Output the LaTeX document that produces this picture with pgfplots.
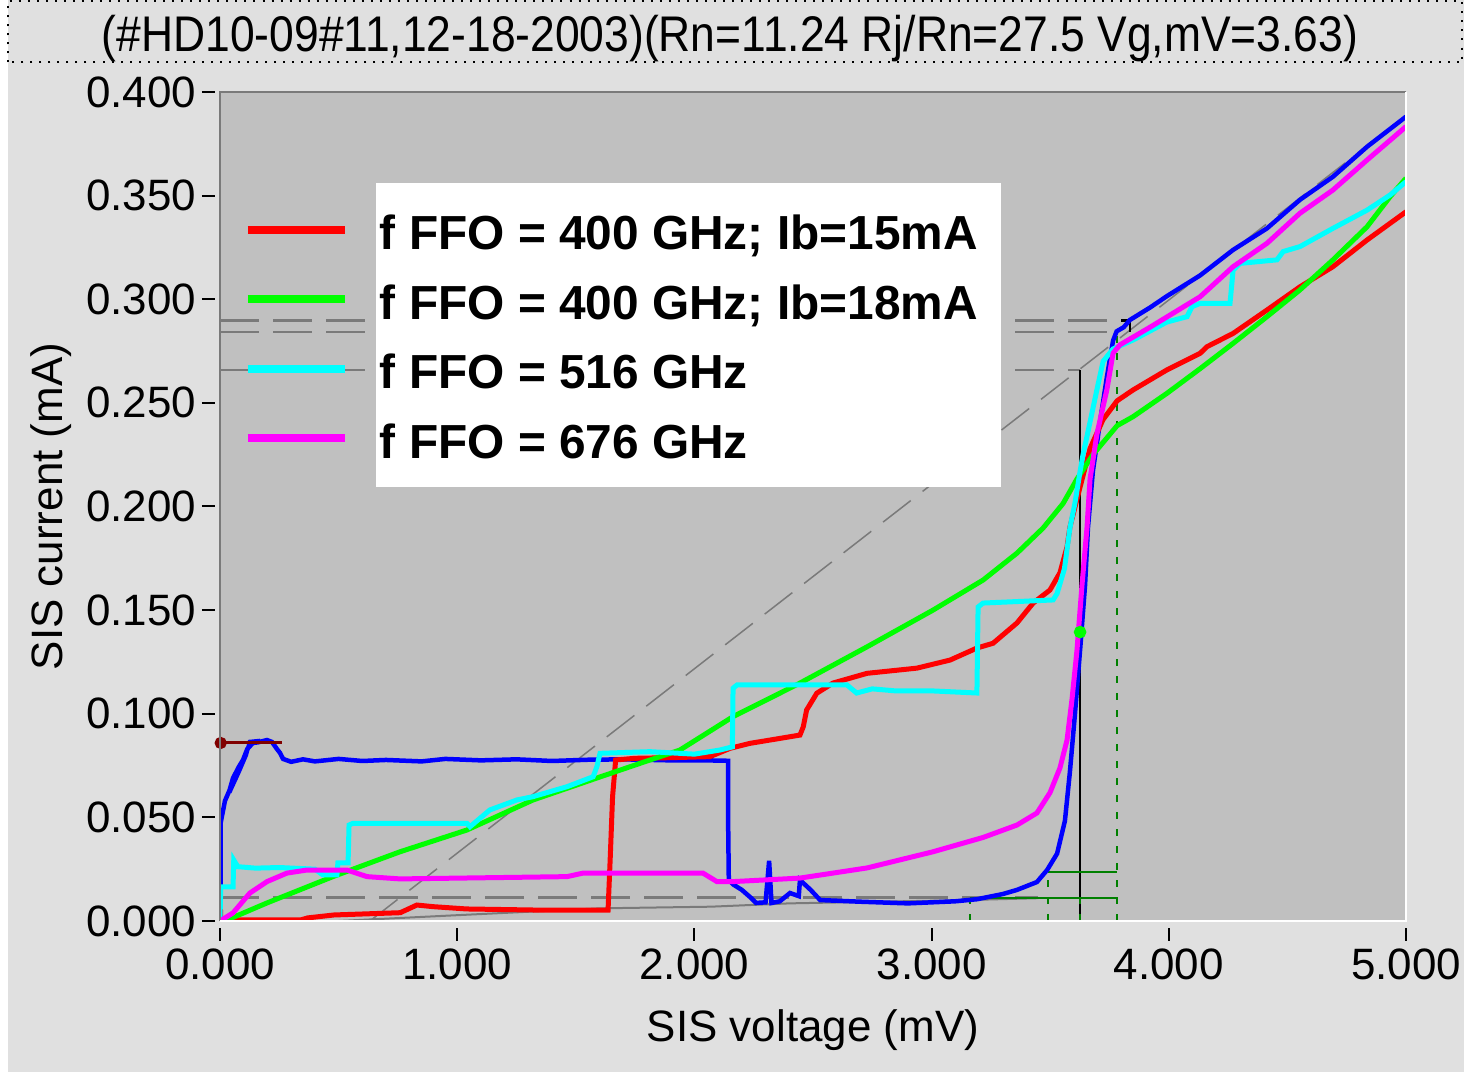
\documentclass[border=0pt]{standalone}
\usepackage{fontspec}
\setmainfont{Liberation Sans}
\usepackage{pgfplots}
\pgfplotsset{compat=1.18}
\definecolor{outerbg}{HTML}{E0E0E0}
\definecolor{plotbg}{HTML}{C0C0C0}
\definecolor{refgray}{HTML}{7A7A7A}
\definecolor{cRed}{HTML}{FF0000}
\definecolor{cGreen}{HTML}{00FF00}
\definecolor{cCyan}{HTML}{00FFFF}
\definecolor{cMag}{HTML}{FF00FF}
\definecolor{cBlue}{HTML}{0000FF}
\definecolor{dRed}{HTML}{800000}
\definecolor{dGreen}{HTML}{008000}
\begin{document}
\begin{tikzpicture}
\fill[outerbg] (0,0) rectangle (146.4mm,107.2mm);
\fill[white] (0,0) rectangle (0.8mm,107.2mm);
\draw[black, dotted, line width=0.2mm] (0.8mm,100.95mm) rectangle (146.2mm,107.1mm);
\node[anchor=base, inner sep=0pt] at (73.0mm,102.0mm) {\scalebox{1.011}[1.14]{\fontsize{12.5}{15}\selectfont (\#HD10-09\#11,12-18-2003)(Rn=11.24 Rj/Rn=27.5 Vg,mV=3.63)}};
\begin{axis}[
  at={(22mm,15.1mm)}, anchor=south west,
  scale only axis, width=118.6mm, height=82.9mm,
  xmin=0, xmax=5, ymin=0, ymax=0.4,
  axis background/.style={fill=plotbg},
  axis line style={draw=none},
  tick align=outside, tick pos=left,
  major tick length=1.3mm,
  every tick/.style={black, line width=0.2mm},
  ytick style={xshift=-0.5mm},
  xtick style={yshift=-0.7mm},
  xtick={0,1,2,3,4,5},
  ytick={0,0.05,0.1,0.15,0.2,0.25,0.3,0.35,0.4},
  scaled ticks=false,
  /pgf/number format/fixed,
  /pgf/number format/fixed zerofill,
  /pgf/number format/precision=3,
  /pgf/number format/assume math mode=true,
  ticklabel style={font=\fontsize{12.5}{15}\selectfont},
  xticklabel style={anchor=north, inner sep=0pt, yshift=-1.4mm},
  yticklabel style={anchor=east, inner sep=0pt, xshift=-1.0mm},
  label style={font=\fontsize{12.5}{15}\selectfont},
  xlabel={SIS voltage (mV)},
  ylabel={SIS current (mA)},
  xlabel style={at={(axis description cs:0.5,-0.1315)}, anchor=center},
  ylabel style={at={(axis description cs:-0.1425,0.5)}, anchor=center},
  legend style={at={(axis cs:0.101,0.3407)}, anchor=north west, draw=none, fill=none,
    inner sep=0pt, outer sep=0pt, row sep=2.55mm, column sep=3.1mm,
    cells={anchor=base west},
    nodes={inner sep=0pt, text height=3.5mm, text depth=0.9mm, font=\fontsize{13.6}{16}\selectfont\bfseries}},
  legend image code/.code={\draw[#1, line width=0.8mm] (0mm,2mm) -- (9.7mm,2mm);},
]
% reference lines
\addplot[refgray, line width=0.15mm, dash pattern=on 3.5mm off 1.5mm, forget plot] coordinates {(0.632,0) (5.0,0.3886)};
\addplot[refgray, line width=0.25mm, dash pattern=on 3.9mm off 1.4mm, forget plot] coordinates {(0,0.2897) (3.836,0.2897)};
\addplot[refgray, line width=0.25mm, dash pattern=on 3.9mm off 1.4mm, forget plot] coordinates {(0,0.2841) (3.782,0.2841)};
\addplot[refgray, line width=0.25mm, dash pattern=on 3.9mm off 1.4mm, forget plot] coordinates {(0,0.2659) (3.626,0.2659)};
\addplot[refgray, line width=0.25mm, dash pattern=on 3.9mm off 1.4mm, forget plot] coordinates {(0,0.0113) (3.45,0.0113)};
\addplot[refgray, line width=0.2mm, forget plot] coordinates {(0.50,0) (1.0,0.0028) (1.6,0.0061) (2.07,0.0069) (2.4,0.0085) (3.15,0.0101) (3.45,0.0110)};
\addplot[black, line width=0.25mm, forget plot] coordinates {(3.626,0) (3.626,0.2659)};
\addplot[black, line width=0.25mm, forget plot] coordinates {(3.80,0.2897) (3.836,0.2897) (3.836,0.2841)};
\addplot[dGreen, line width=0.25mm, dash pattern=on 0.7mm off 1.0mm, forget plot] coordinates {(3.162,0) (3.162,0.0109)};
\addplot[dGreen, line width=0.25mm, dash pattern=on 0.7mm off 1.0mm, forget plot] coordinates {(3.49,0) (3.49,0.0236)};
\addplot[dGreen, line width=0.25mm, dash pattern=on 0.7mm off 1.0mm, forget plot] coordinates {(3.626,0) (3.626,0.0109)};
\addplot[dGreen, line width=0.25mm, dash pattern=on 0.7mm off 1.0mm, forget plot] coordinates {(3.782,0) (3.782,0.2841)};
\addplot[dGreen, line width=0.2mm, forget plot] coordinates {(3.162,0.0109) (3.782,0.0109)};
\addplot[dGreen, line width=0.2mm, forget plot] coordinates {(3.49,0.0236) (3.782,0.0236)};
% legend background box
\fill[white] (axis cs:0.658,0.2094) rectangle (axis cs:3.293,0.3561);
% blue (unpumped)
\addplot[cBlue, line width=0.45mm, forget plot] coordinates {
(0.003,0.017) (0.003,0.0475) (0.021,0.058) (0.040,0.063) (0.055,0.069) (0.080,0.0745)
(0.097,0.0777) (0.115,0.0830) (0.139,0.0859) (0.160,0.0862) (0.198,0.0873) (0.219,0.0864)
(0.240,0.0830) (0.253,0.0811) (0.266,0.0782) (0.30,0.0768) (0.35,0.0780) (0.40,0.0770)
(0.50,0.0782) (0.60,0.0772) (0.70,0.0777) (0.85,0.0770) (0.95,0.0782) (1.10,0.0775)
(1.25,0.0780) (1.40,0.0772) (1.55,0.0778) (1.70,0.0780) (1.90,0.0775) (2.05,0.0775)
(2.142,0.0773) (2.142,0.0500) (2.145,0.0198) (2.165,0.0175) (2.20,0.0150) (2.24,0.0110)
(2.26,0.0087) (2.30,0.0090) (2.315,0.0290) (2.325,0.0087) (2.36,0.0095) (2.403,0.0135)
(2.44,0.0120) (2.445,0.0198) (2.49,0.0150) (2.530,0.0101) (2.70,0.0093) (2.90,0.0085)
(3.10,0.0095) (3.191,0.0105) (3.30,0.0130) (3.360,0.0150) (3.444,0.0188) (3.487,0.0246)
(3.529,0.0325) (3.562,0.0483) (3.583,0.0719) (3.604,0.0994) (3.626,0.1308) (3.647,0.1621)
(3.659,0.1896) (3.680,0.2171) (3.710,0.2408) (3.739,0.2625) (3.765,0.2800) (3.780,0.2845)
(3.810,0.2865) (3.836,0.2900) (3.921,0.2960) (3.992,0.3015) (4.132,0.3115) (4.271,0.3238)
(4.414,0.3342) (4.553,0.3480) (4.692,0.3591) (4.836,0.3736) (5.000,0.3881)};
\addplot[cBlue, line width=0.4mm, forget plot] coordinates {(0.04,0.062) (0.08,0.072) (0.11,0.080) (0.125,0.0865) (0.17,0.0870)};
% dark red marker line
\addplot[dRed, line width=0.3mm, mark=*, mark size=1.3pt, mark repeat=2, forget plot] coordinates {(0.003,0.0859) (0.26,0.0859)};
% red
\addplot[cRed, line width=0.5mm] coordinates {
(0.000,0.0110) (0.004,0.0000) (0.030,0.0005) (0.340,0.0005) (0.370,0.0015) (0.480,0.0029)
(0.760,0.0040) (0.830,0.0077) (0.900,0.0069) (1.040,0.0058) (1.320,0.0053) (1.636,0.0053)
(1.645,0.0300) (1.655,0.0600) (1.668,0.0777) (1.750,0.0785) (1.900,0.0788) (2.066,0.0793)
(2.150,0.0833) (2.234,0.0857) (2.445,0.0897) (2.459,0.0937) (2.473,0.1018) (2.516,0.1099)
(2.584,0.1148) (2.728,0.1195) (2.938,0.1220) (3.078,0.1259) (3.191,0.1317) (3.259,0.1340)
(3.360,0.1438) (3.428,0.1534) (3.499,0.1597) (3.541,0.1680) (3.571,0.1805) (3.583,0.1900)
(3.626,0.2094) (3.668,0.2280) (3.723,0.2420) (3.782,0.2510) (3.849,0.2562) (3.992,0.2659)
(4.132,0.2739) (4.161,0.2771) (4.271,0.2835) (4.414,0.2948) (4.553,0.3060) (4.692,0.3157)
(4.836,0.3286) (5.000,0.3422)};
\addlegendentry{f FFO = 400 GHz; Ib=15mA}
% green
\addplot[cGreen, line width=0.5mm] coordinates {
(0,0) (0.03,0.0005) (0.198,0.0087) (0.476,0.0214) (0.759,0.0334) (1.041,0.0439)
(1.320,0.0584) (1.602,0.0695) (1.813,0.0777) (1.939,0.0825) (2.163,0.0986) (2.445,0.1148)
(2.728,0.1323) (3.006,0.1500) (3.217,0.1645) (3.360,0.1775) (3.470,0.1896) (3.554,0.2014)
(3.613,0.2133) (3.680,0.2250) (3.782,0.2390) (3.849,0.2433) (3.992,0.2546) (4.132,0.2665)
(4.271,0.2787) (4.414,0.2916) (4.553,0.3045) (4.692,0.3190) (4.836,0.3350) (4.933,0.3495)
(5.000,0.3584)};
\addlegendentry{f FFO = 400 GHz; Ib=18mA}
% cyan
\addplot[cCyan, line width=0.5mm] coordinates {
(0.000,0.0000) (0.003,0.0165) (0.055,0.0165) (0.058,0.0294) (0.075,0.0262) (0.150,0.0255)
(0.250,0.0258) (0.400,0.0250) (0.434,0.0222) (0.493,0.0222) (0.497,0.0280) (0.540,0.0280)
(0.544,0.0463) (0.560,0.0471) (0.800,0.0471) (1.041,0.0471) (1.054,0.0455) (1.138,0.0536)
(1.252,0.0584) (1.320,0.0600) (1.463,0.0648) (1.573,0.0696) (1.589,0.0745) (1.602,0.0809)
(1.813,0.0817) (2.000,0.0805) (2.108,0.0825) (2.160,0.0840) (2.163,0.1123) (2.180,0.1139)
(2.643,0.1139) (2.684,0.1100) (2.750,0.1120) (2.850,0.1110) (3.006,0.1110) (3.191,0.1100)
(3.196,0.1515) (3.217,0.1534) (3.512,0.1549) (3.529,0.1580) (3.560,0.1700) (3.583,0.1896)
(3.604,0.2014) (3.626,0.2170) (3.638,0.2248) (3.668,0.2408) (3.697,0.2564) (3.723,0.2700)
(3.765,0.2760) (3.849,0.2803) (3.992,0.2890) (4.077,0.2916) (4.098,0.2964) (4.132,0.2980)
(4.258,0.2980) (4.271,0.3140) (4.300,0.3173) (4.456,0.3190) (4.482,0.3230) (4.553,0.3254)
(4.692,0.3342) (4.836,0.3430) (4.933,0.3503) (5.000,0.3567)};
\addlegendentry{f FFO = 516 GHz}
% magenta
\addplot[cMag, line width=0.5mm] coordinates {
(0.000,0.0000) (0.055,0.0039) (0.126,0.0135) (0.198,0.0190) (0.282,0.0231) (0.367,0.0246)
(0.535,0.0246) (0.620,0.0214) (0.759,0.0203) (1.463,0.0214) (1.530,0.0231) (2.036,0.0231)
(2.095,0.0190) (2.163,0.0190) (2.445,0.0207) (2.728,0.0256) (3.006,0.0334) (3.217,0.0403)
(3.360,0.0463) (3.444,0.0521) (3.499,0.0619) (3.541,0.0738) (3.571,0.0873) (3.592,0.1071)
(3.613,0.1308) (3.634,0.1621) (3.655,0.1896) (3.668,0.2133) (3.697,0.2350) (3.739,0.2564)
(3.765,0.2740) (3.794,0.2780) (3.921,0.2865) (4.132,0.3012) (4.271,0.3157) (4.414,0.3270)
(4.553,0.3415) (4.692,0.3527) (4.836,0.3672) (5.000,0.3833)};
\addlegendentry{f FFO = 676 GHz}
% green marker
\addplot[cGreen, only marks, mark=*, mark size=1.6pt, forget plot] coordinates {(3.626,0.1394)};
\end{axis}
% plot frame (sunken look)
\draw[refgray, line width=0.25mm] (22mm,15.1mm) -- (22mm,98.0mm) -- (140.6mm,98.0mm);
\draw[white, line width=0.25mm] (140.6mm,98.0mm) -- (140.6mm,15.1mm) -- (22mm,15.1mm);
\end{tikzpicture}
\end{document}
